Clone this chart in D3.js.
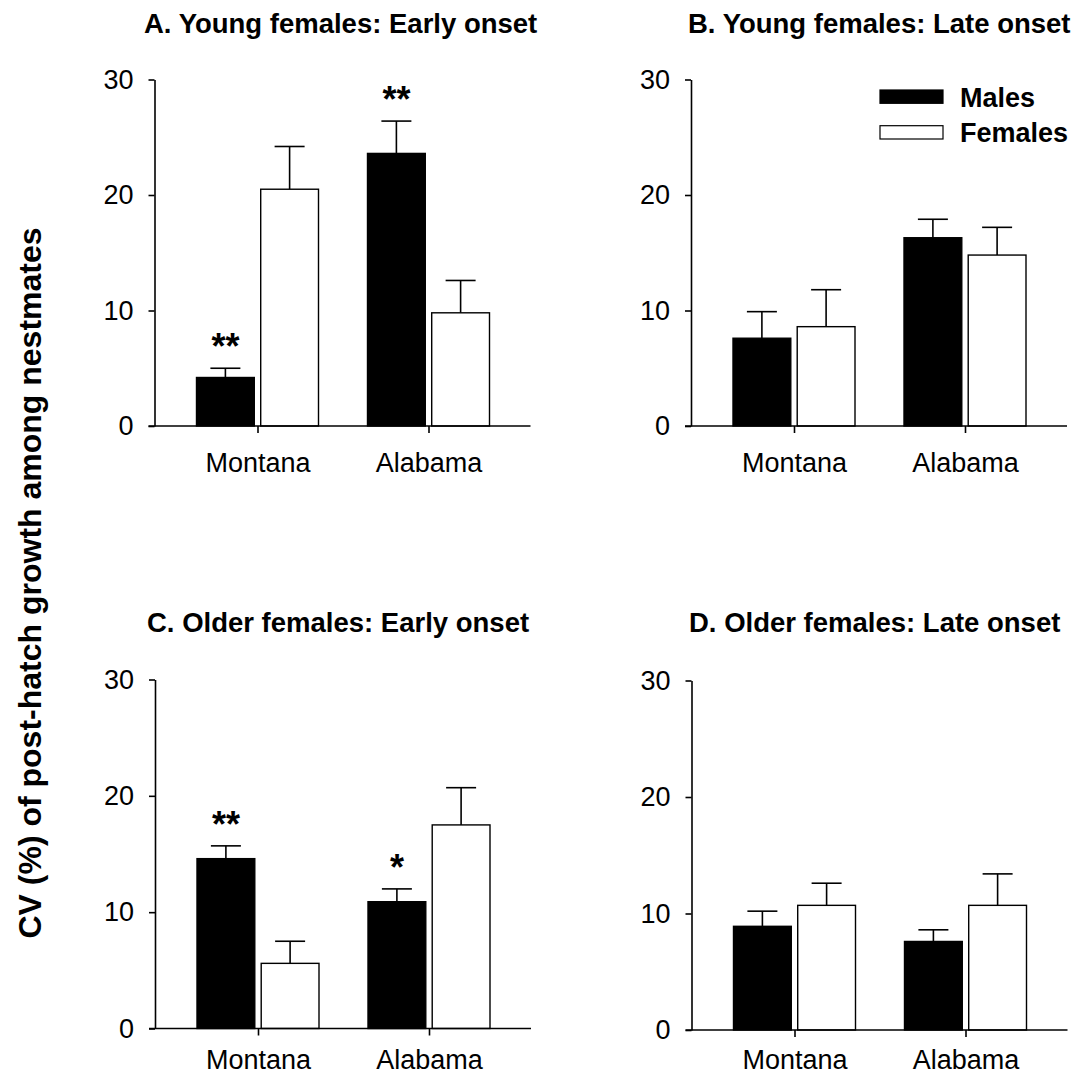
<!DOCTYPE html>
<html>
<head>
<meta charset="utf-8">
<script src="https://cdn.jsdelivr.net/npm/d3@7/dist/d3.min.js"></script>
<style>
  html, body { margin: 0; padding: 0; background: #fff; }
  svg { display: block; }
  text { font-family: "Liberation Sans", Arial, Helvetica, sans-serif; fill: #000; }
</style>
</head>
<body>
<svg id="chart" width="1080" height="1076"></svg>
<script>
// ---------- data ----------
const categories = ["Montana", "Alabama"];
const series = ["Males", "Females"];
const yTicks = [0, 10, 20, 30];
const panelTitles = [
  "A. Young females: Early onset",
  "B. Young females: Late onset",
  "C. Older females: Early onset",
  "D. Older females: Late onset"
];
// means per panel, per category [Montana, Alabama]
const malesMean   = [[4.2, 23.6], [7.6, 16.3], [14.6, 10.9], [8.9, 7.6]];
const malesUpper  = [[5.0, 26.4], [9.9, 17.9], [15.7, 12.0], [10.2, 8.6]];
const femalesMean = [[20.5, 9.8], [8.6, 14.8], [5.6, 17.5], [10.7, 10.7]];
const femalesUpper= [[24.2, 12.6], [11.8, 17.2], [7.5, 20.7], [12.6, 13.4]];
// significance markers: panel index, category, series, label
const starPanels  = [0, 0, 2, 2];
const starCats    = ["Montana", "Alabama", "Montana", "Alabama"];
const starSeries  = ["Males", "Males", "Males", "Males"];
const starLabels  = ["**", "**", "**", "*"];
const yAxisLabel = "CV (%) of post-hatch growth among nestmates";

// ---------- layout ----------
const panels = [
  { left: 154.5, top: 79.5,  bottom: 426,    titleX: 144, titleY: 33,  xPad: 20 },
  { left: 691,   top: 79.5,  bottom: 426,    titleX: 688, titleY: 33,  xPad: 20 },
  { left: 155,   top: 679.5, bottom: 1028.5, titleX: 147, titleY: 632, xPad: 14 },
  { left: 691.5, top: 680.5, bottom: 1030,   titleX: 689, titleY: 632, xPad: 13 }
];
const axisLen = 376;
const svg = d3.select("#chart");

const seriesFill = { Males: "#000", Females: "#fff" };

panels.forEach((p, i) => {
  const g = svg.append("g").attr("transform", `translate(${p.left},0)`);
  const y = d3.scaleLinear().domain([0, 30]).range([p.bottom, p.top]);
  const x = d3.scalePoint().domain(categories).range([103, 274]);
  const xs = d3.scaleBand().domain(series).range([-61, 61]).paddingInner(0.1).paddingOuter(0);

  const rows = [];
  categories.forEach((c, ci) => {
    rows.push({ cat: c, s: "Males",   v: malesMean[i][ci],   up: malesUpper[i][ci] });
    rows.push({ cat: c, s: "Females", v: femalesMean[i][ci], up: femalesUpper[i][ci] });
  });

  // error bars (drawn first so bar covers stem)
  const eb = g.append("g").attr("stroke", "#000").attr("stroke-width", 1.6);
  rows.forEach(r => {
    const cx = x(r.cat) + xs(r.s) + xs.bandwidth() / 2;
    eb.append("line").attr("x1", cx).attr("x2", cx).attr("y1", y(r.v)).attr("y2", y(r.up));
    eb.append("line").attr("x1", cx - 15).attr("x2", cx + 15).attr("y1", y(r.up)).attr("y2", y(r.up));
  });

  // bars
  g.append("g").selectAll("rect").data(rows).join("rect")
    .attr("x", d => x(d.cat) + xs(d.s))
    .attr("width", xs.bandwidth())
    .attr("y", d => y(d.v))
    .attr("height", d => y(0) - y(d.v))
    .attr("fill", d => seriesFill[d.s])
    .attr("stroke", "#000")
    .attr("stroke-width", 1.4);

  // y axis
  const ya = g.append("g")
    .call(d3.axisLeft(y).tickValues(yTicks).tickSize(6).tickSizeOuter(0).tickPadding(15));
  ya.select(".domain").attr("stroke-width", 1.6);
  ya.selectAll(".tick line").attr("stroke-width", 1.6);
  ya.selectAll("text").attr("font-size", 27).attr("fill", "#000")
    .style("font-family", '"Liberation Sans", Arial, sans-serif');

  // x axis
  const xa = g.append("g").attr("transform", `translate(0,${y(0)})`)
    .call(d3.axisBottom(x).tickSize(7).tickPadding(p.xPad));
  xa.select(".domain").remove();
  xa.selectAll(".tick line").attr("stroke-width", 1.6);
  xa.selectAll("text").attr("font-size", 27).attr("fill", "#000")
    .style("font-family", '"Liberation Sans", Arial, sans-serif');
  xa.append("line").attr("x1", -6).attr("x2", axisLen).attr("y1", 0).attr("y2", 0)
    .attr("stroke", "#000").attr("stroke-width", 1.6);

  // stars
  starPanels.forEach((pi, k) => {
    if (pi !== i) return;
    const ci = categories.indexOf(starCats[k]);
    const up = starSeries[k] === "Males" ? malesUpper[i][ci] : femalesUpper[i][ci];
    const cx = x(starCats[k]) + xs(starSeries[k]) + xs.bandwidth() / 2;
    g.append("text")
      .attr("x", cx)
      .attr("y", y(up) - 35 + 0.716 * 36)
      .attr("text-anchor", "middle")
      .attr("font-size", 36)
      .attr("font-weight", "bold")
      .text(starLabels[k]);
  });

  // title
  svg.append("text")
    .attr("x", p.titleX).attr("y", p.titleY)
    .attr("font-size", 27.5).attr("font-weight", "bold")
    .text(panelTitles[i]);

  // legend in panel B
  if (i === 1) {
    const lg = svg.append("g");
    series.forEach((s, k) => {
      const ry = 90 + k * 35.7;
      lg.append("rect").attr("x", 880).attr("y", ry).attr("width", 63).attr("height", 13.3)
        .attr("fill", seriesFill[s]).attr("stroke", "#000").attr("stroke-width", 1.2);
      lg.append("text").attr("x", 960).attr("y", ry + 16.5)
        .attr("font-size", 27).attr("font-weight", "bold").text(s);
    });
  }
});

// y axis label
svg.append("text")
  .attr("transform", "translate(41,583) rotate(-90)")
  .attr("text-anchor", "middle")
  .attr("font-size", 32).attr("font-weight", "bold")
  .text(yAxisLabel);
</script>
</body>
</html>
